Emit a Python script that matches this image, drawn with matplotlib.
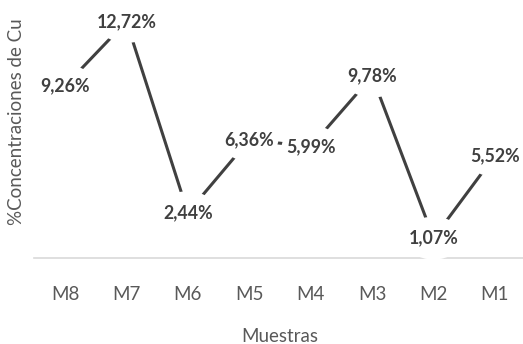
import matplotlib
matplotlib.use("Agg")
import matplotlib.pyplot as plt
from matplotlib.patches import Ellipse
from matplotlib.transforms import ScaledTranslation

categories = ["M8", "M7", "M6", "M5", "M4", "M3", "M2", "M1"]
values = [9.26, 12.72, 2.44, 6.36, 5.99, 9.78, 1.07, 5.52]
y_title = "%Concentraciones de Cu"
x_title = "Muestras"

plt.rcParams['font.family'] = ['Lato', 'DejaVu Sans']

W, H = 523, 344
fig = plt.figure(figsize=(W / 100, H / 100), dpi=100)
ax = fig.add_axes([34.3 / W, 1 - 258 / H, 491.4 / W, 251 / H])

x = list(range(len(categories)))
ax.plot(x, values, color='#404040', lw=2.2, zorder=2, solid_capstyle='butt')

for xi, v in zip(x, values):
    tr = fig.dpi_scale_trans + ScaledTranslation(xi, v, ax.transData)
    e = Ellipse((0, 0), 0.58, 0.43, transform=tr, facecolor='white',
                edgecolor='none', zorder=3, clip_on=False)
    ax.add_patch(e)
    ax.text(xi, v, f"{v:.2f}%".replace('.', ','), ha='center', va='center',
            fontsize=12.8, fontweight='bold', color='#404040', zorder=4)

ax.set_xlim(-0.5, len(categories) - 0.5)
ax.set_ylim(0, 13.5)
ax.set_xticks(x, categories)
ax.set_yticks([])
ax.tick_params(axis='x', length=0, pad=20, labelsize=13.5, labelcolor='#595959')
for s in ['left', 'top', 'right']:
    ax.spines[s].set_visible(False)
ax.spines['bottom'].set_color('#d9d9d9')
ax.spines['bottom'].set_linewidth(1.2)

fig.text(17 / W, 1 - 122 / H, y_title, rotation=90, ha='center', va='center',
         fontsize=13.5, color='#595959')
fig.text(280 / W, 1 - 337 / H, x_title, ha='center', va='center',
         fontsize=13.5, color='#595959')

fig.savefig("out.png", dpi=100)
